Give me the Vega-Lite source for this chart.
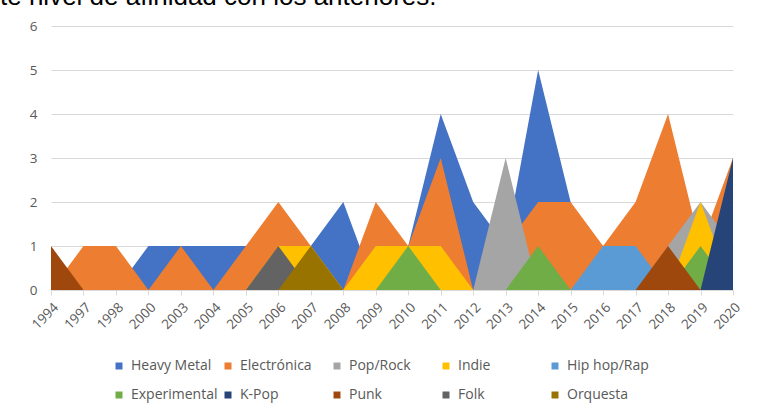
{
  "$schema": "https://vega.github.io/schema/vega-lite/v6.json",
  "width": 682,
  "height": 264,
  "autosize": {"type": "none"},
  "padding": {"left": 51, "top": 26, "right": 30, "bottom": 123},
  "background": "#ffffff",
  "title": {
    "text": "te nivel de afinidad con los anteriores.",
    "anchor": "start",
    "frame": "group",
    "font": "Liberation Sans",
    "fontSize": 26,
    "fontWeight": "normal",
    "color": "#000000",
    "baseline": "alphabetic",
    "offset": 0,
    "dx": -51,
    "dy": 12
  },
  "data": {
    "values": [
      {"year": "1994", "genre": "Heavy Metal", "value": 0},
      {"year": "1997", "genre": "Heavy Metal", "value": 0},
      {"year": "1998", "genre": "Heavy Metal", "value": 0},
      {"year": "2000", "genre": "Heavy Metal", "value": 1},
      {"year": "2003", "genre": "Heavy Metal", "value": 1},
      {"year": "2004", "genre": "Heavy Metal", "value": 1},
      {"year": "2005", "genre": "Heavy Metal", "value": 1},
      {"year": "2006", "genre": "Heavy Metal", "value": 1},
      {"year": "2007", "genre": "Heavy Metal", "value": 1},
      {"year": "2008", "genre": "Heavy Metal", "value": 2},
      {"year": "2009", "genre": "Heavy Metal", "value": 0},
      {"year": "2010", "genre": "Heavy Metal", "value": 1},
      {"year": "2011", "genre": "Heavy Metal", "value": 4},
      {"year": "2012", "genre": "Heavy Metal", "value": 2},
      {"year": "2013", "genre": "Heavy Metal", "value": 1},
      {"year": "2014", "genre": "Heavy Metal", "value": 5},
      {"year": "2015", "genre": "Heavy Metal", "value": 2},
      {"year": "2016", "genre": "Heavy Metal", "value": 0},
      {"year": "2017", "genre": "Heavy Metal", "value": 0},
      {"year": "2018", "genre": "Heavy Metal", "value": 0},
      {"year": "2019", "genre": "Heavy Metal", "value": 0},
      {"year": "2020", "genre": "Heavy Metal", "value": 0},

      {"year": "1994", "genre": "Electrónica", "value": 0},
      {"year": "1997", "genre": "Electrónica", "value": 1},
      {"year": "1998", "genre": "Electrónica", "value": 1},
      {"year": "2000", "genre": "Electrónica", "value": 0},
      {"year": "2003", "genre": "Electrónica", "value": 1},
      {"year": "2004", "genre": "Electrónica", "value": 0},
      {"year": "2005", "genre": "Electrónica", "value": 1},
      {"year": "2006", "genre": "Electrónica", "value": 2},
      {"year": "2007", "genre": "Electrónica", "value": 1},
      {"year": "2008", "genre": "Electrónica", "value": 0},
      {"year": "2009", "genre": "Electrónica", "value": 2},
      {"year": "2010", "genre": "Electrónica", "value": 1},
      {"year": "2011", "genre": "Electrónica", "value": 3},
      {"year": "2012", "genre": "Electrónica", "value": 0},
      {"year": "2013", "genre": "Electrónica", "value": 1},
      {"year": "2014", "genre": "Electrónica", "value": 2},
      {"year": "2015", "genre": "Electrónica", "value": 2},
      {"year": "2016", "genre": "Electrónica", "value": 1},
      {"year": "2017", "genre": "Electrónica", "value": 2},
      {"year": "2018", "genre": "Electrónica", "value": 4},
      {"year": "2019", "genre": "Electrónica", "value": 1},
      {"year": "2020", "genre": "Electrónica", "value": 3},

      {"year": "1994", "genre": "Pop/Rock", "value": 0},
      {"year": "1997", "genre": "Pop/Rock", "value": 0},
      {"year": "1998", "genre": "Pop/Rock", "value": 0},
      {"year": "2000", "genre": "Pop/Rock", "value": 0},
      {"year": "2003", "genre": "Pop/Rock", "value": 0},
      {"year": "2004", "genre": "Pop/Rock", "value": 0},
      {"year": "2005", "genre": "Pop/Rock", "value": 0},
      {"year": "2006", "genre": "Pop/Rock", "value": 0},
      {"year": "2007", "genre": "Pop/Rock", "value": 0},
      {"year": "2008", "genre": "Pop/Rock", "value": 0},
      {"year": "2009", "genre": "Pop/Rock", "value": 0},
      {"year": "2010", "genre": "Pop/Rock", "value": 0},
      {"year": "2011", "genre": "Pop/Rock", "value": 0},
      {"year": "2012", "genre": "Pop/Rock", "value": 0},
      {"year": "2013", "genre": "Pop/Rock", "value": 3},
      {"year": "2014", "genre": "Pop/Rock", "value": 0},
      {"year": "2015", "genre": "Pop/Rock", "value": 0},
      {"year": "2016", "genre": "Pop/Rock", "value": 0},
      {"year": "2017", "genre": "Pop/Rock", "value": 0},
      {"year": "2018", "genre": "Pop/Rock", "value": 1},
      {"year": "2019", "genre": "Pop/Rock", "value": 2},
      {"year": "2020", "genre": "Pop/Rock", "value": 1},

      {"year": "1994", "genre": "Indie", "value": 0},
      {"year": "1997", "genre": "Indie", "value": 0},
      {"year": "1998", "genre": "Indie", "value": 0},
      {"year": "2000", "genre": "Indie", "value": 0},
      {"year": "2003", "genre": "Indie", "value": 0},
      {"year": "2004", "genre": "Indie", "value": 0},
      {"year": "2005", "genre": "Indie", "value": 0},
      {"year": "2006", "genre": "Indie", "value": 1},
      {"year": "2007", "genre": "Indie", "value": 1},
      {"year": "2008", "genre": "Indie", "value": 0},
      {"year": "2009", "genre": "Indie", "value": 1},
      {"year": "2010", "genre": "Indie", "value": 1},
      {"year": "2011", "genre": "Indie", "value": 1},
      {"year": "2012", "genre": "Indie", "value": 0},
      {"year": "2013", "genre": "Indie", "value": 0},
      {"year": "2014", "genre": "Indie", "value": 0},
      {"year": "2015", "genre": "Indie", "value": 0},
      {"year": "2016", "genre": "Indie", "value": 0},
      {"year": "2017", "genre": "Indie", "value": 0},
      {"year": "2018", "genre": "Indie", "value": 0},
      {"year": "2019", "genre": "Indie", "value": 2},
      {"year": "2020", "genre": "Indie", "value": 0},

      {"year": "1994", "genre": "Hip hop/Rap", "value": 0},
      {"year": "1997", "genre": "Hip hop/Rap", "value": 0},
      {"year": "1998", "genre": "Hip hop/Rap", "value": 0},
      {"year": "2000", "genre": "Hip hop/Rap", "value": 0},
      {"year": "2003", "genre": "Hip hop/Rap", "value": 0},
      {"year": "2004", "genre": "Hip hop/Rap", "value": 0},
      {"year": "2005", "genre": "Hip hop/Rap", "value": 0},
      {"year": "2006", "genre": "Hip hop/Rap", "value": 0},
      {"year": "2007", "genre": "Hip hop/Rap", "value": 0},
      {"year": "2008", "genre": "Hip hop/Rap", "value": 0},
      {"year": "2009", "genre": "Hip hop/Rap", "value": 0},
      {"year": "2010", "genre": "Hip hop/Rap", "value": 0},
      {"year": "2011", "genre": "Hip hop/Rap", "value": 0},
      {"year": "2012", "genre": "Hip hop/Rap", "value": 0},
      {"year": "2013", "genre": "Hip hop/Rap", "value": 0},
      {"year": "2014", "genre": "Hip hop/Rap", "value": 0},
      {"year": "2015", "genre": "Hip hop/Rap", "value": 0},
      {"year": "2016", "genre": "Hip hop/Rap", "value": 1},
      {"year": "2017", "genre": "Hip hop/Rap", "value": 1},
      {"year": "2018", "genre": "Hip hop/Rap", "value": 0},
      {"year": "2019", "genre": "Hip hop/Rap", "value": 0},
      {"year": "2020", "genre": "Hip hop/Rap", "value": 0},

      {"year": "1994", "genre": "Experimental", "value": 0},
      {"year": "1997", "genre": "Experimental", "value": 0},
      {"year": "1998", "genre": "Experimental", "value": 0},
      {"year": "2000", "genre": "Experimental", "value": 0},
      {"year": "2003", "genre": "Experimental", "value": 0},
      {"year": "2004", "genre": "Experimental", "value": 0},
      {"year": "2005", "genre": "Experimental", "value": 0},
      {"year": "2006", "genre": "Experimental", "value": 0},
      {"year": "2007", "genre": "Experimental", "value": 0},
      {"year": "2008", "genre": "Experimental", "value": 0},
      {"year": "2009", "genre": "Experimental", "value": 0},
      {"year": "2010", "genre": "Experimental", "value": 1},
      {"year": "2011", "genre": "Experimental", "value": 0},
      {"year": "2012", "genre": "Experimental", "value": 0},
      {"year": "2013", "genre": "Experimental", "value": 0},
      {"year": "2014", "genre": "Experimental", "value": 1},
      {"year": "2015", "genre": "Experimental", "value": 0},
      {"year": "2016", "genre": "Experimental", "value": 0},
      {"year": "2017", "genre": "Experimental", "value": 0},
      {"year": "2018", "genre": "Experimental", "value": 0},
      {"year": "2019", "genre": "Experimental", "value": 1},
      {"year": "2020", "genre": "Experimental", "value": 0},

      {"year": "1994", "genre": "K-Pop", "value": 0},
      {"year": "1997", "genre": "K-Pop", "value": 0},
      {"year": "1998", "genre": "K-Pop", "value": 0},
      {"year": "2000", "genre": "K-Pop", "value": 0},
      {"year": "2003", "genre": "K-Pop", "value": 0},
      {"year": "2004", "genre": "K-Pop", "value": 0},
      {"year": "2005", "genre": "K-Pop", "value": 0},
      {"year": "2006", "genre": "K-Pop", "value": 0},
      {"year": "2007", "genre": "K-Pop", "value": 0},
      {"year": "2008", "genre": "K-Pop", "value": 0},
      {"year": "2009", "genre": "K-Pop", "value": 0},
      {"year": "2010", "genre": "K-Pop", "value": 0},
      {"year": "2011", "genre": "K-Pop", "value": 0},
      {"year": "2012", "genre": "K-Pop", "value": 0},
      {"year": "2013", "genre": "K-Pop", "value": 0},
      {"year": "2014", "genre": "K-Pop", "value": 0},
      {"year": "2015", "genre": "K-Pop", "value": 0},
      {"year": "2016", "genre": "K-Pop", "value": 0},
      {"year": "2017", "genre": "K-Pop", "value": 0},
      {"year": "2018", "genre": "K-Pop", "value": 0},
      {"year": "2019", "genre": "K-Pop", "value": 0},
      {"year": "2020", "genre": "K-Pop", "value": 3},

      {"year": "1994", "genre": "Punk", "value": 1},
      {"year": "1997", "genre": "Punk", "value": 0},
      {"year": "1998", "genre": "Punk", "value": 0},
      {"year": "2000", "genre": "Punk", "value": 0},
      {"year": "2003", "genre": "Punk", "value": 0},
      {"year": "2004", "genre": "Punk", "value": 0},
      {"year": "2005", "genre": "Punk", "value": 0},
      {"year": "2006", "genre": "Punk", "value": 0},
      {"year": "2007", "genre": "Punk", "value": 0},
      {"year": "2008", "genre": "Punk", "value": 0},
      {"year": "2009", "genre": "Punk", "value": 0},
      {"year": "2010", "genre": "Punk", "value": 0},
      {"year": "2011", "genre": "Punk", "value": 0},
      {"year": "2012", "genre": "Punk", "value": 0},
      {"year": "2013", "genre": "Punk", "value": 0},
      {"year": "2014", "genre": "Punk", "value": 0},
      {"year": "2015", "genre": "Punk", "value": 0},
      {"year": "2016", "genre": "Punk", "value": 0},
      {"year": "2017", "genre": "Punk", "value": 0},
      {"year": "2018", "genre": "Punk", "value": 1},
      {"year": "2019", "genre": "Punk", "value": 0},
      {"year": "2020", "genre": "Punk", "value": 0},

      {"year": "1994", "genre": "Folk", "value": 0},
      {"year": "1997", "genre": "Folk", "value": 0},
      {"year": "1998", "genre": "Folk", "value": 0},
      {"year": "2000", "genre": "Folk", "value": 0},
      {"year": "2003", "genre": "Folk", "value": 0},
      {"year": "2004", "genre": "Folk", "value": 0},
      {"year": "2005", "genre": "Folk", "value": 0},
      {"year": "2006", "genre": "Folk", "value": 1},
      {"year": "2007", "genre": "Folk", "value": 0},
      {"year": "2008", "genre": "Folk", "value": 0},
      {"year": "2009", "genre": "Folk", "value": 0},
      {"year": "2010", "genre": "Folk", "value": 0},
      {"year": "2011", "genre": "Folk", "value": 0},
      {"year": "2012", "genre": "Folk", "value": 0},
      {"year": "2013", "genre": "Folk", "value": 0},
      {"year": "2014", "genre": "Folk", "value": 0},
      {"year": "2015", "genre": "Folk", "value": 0},
      {"year": "2016", "genre": "Folk", "value": 0},
      {"year": "2017", "genre": "Folk", "value": 0},
      {"year": "2018", "genre": "Folk", "value": 0},
      {"year": "2019", "genre": "Folk", "value": 0},
      {"year": "2020", "genre": "Folk", "value": 0},

      {"year": "1994", "genre": "Orquesta", "value": 0},
      {"year": "1997", "genre": "Orquesta", "value": 0},
      {"year": "1998", "genre": "Orquesta", "value": 0},
      {"year": "2000", "genre": "Orquesta", "value": 0},
      {"year": "2003", "genre": "Orquesta", "value": 0},
      {"year": "2004", "genre": "Orquesta", "value": 0},
      {"year": "2005", "genre": "Orquesta", "value": 0},
      {"year": "2006", "genre": "Orquesta", "value": 0},
      {"year": "2007", "genre": "Orquesta", "value": 1},
      {"year": "2008", "genre": "Orquesta", "value": 0},
      {"year": "2009", "genre": "Orquesta", "value": 0},
      {"year": "2010", "genre": "Orquesta", "value": 0},
      {"year": "2011", "genre": "Orquesta", "value": 0},
      {"year": "2012", "genre": "Orquesta", "value": 0},
      {"year": "2013", "genre": "Orquesta", "value": 0},
      {"year": "2014", "genre": "Orquesta", "value": 0},
      {"year": "2015", "genre": "Orquesta", "value": 0},
      {"year": "2016", "genre": "Orquesta", "value": 0},
      {"year": "2017", "genre": "Orquesta", "value": 0},
      {"year": "2018", "genre": "Orquesta", "value": 0},
      {"year": "2019", "genre": "Orquesta", "value": 0},
      {"year": "2020", "genre": "Orquesta", "value": 0}
    ]
  },
  "mark": {"type": "area", "interpolate": "linear", "opacity": 1},
  "encoding": {
    "x": {
      "field": "year",
      "type": "ordinal",
      "sort": null,
      "scale": {"type": "point", "padding": 0},
      "axis": {
        "title": null,
        "labelAngle": -45,
        "labelFont": "Open Sans",
        "labelFontSize": 13.5,
        "labelColor": "#595959",
        "labelPadding": 5,
        "domainColor": "#d9d9d9",
        "tickColor": "#d9d9d9",
        "tickSize": 5,
        "grid": false
      }
    },
    "y": {
      "field": "value",
      "type": "quantitative",
      "stack": null,
      "scale": {"domain": [0, 6], "nice": false},
      "axis": {
        "title": null,
        "values": [0, 1, 2, 3, 4, 5, 6],
        "domain": false,
        "ticks": false,
        "grid": true,
        "gridColor": "#d9d9d9",
        "labelFont": "Open Sans",
        "labelFontSize": 13.5,
        "labelColor": "#595959",
        "labelPadding": 14
      }
    },
    "color": {
      "field": "genre",
      "type": "nominal",
      "scale": {
        "domain": ["Heavy Metal", "Electrónica", "Pop/Rock", "Indie", "Hip hop/Rap", "Experimental", "K-Pop", "Punk", "Folk", "Orquesta"],
        "range": ["#4472C4", "#ED7D31", "#A5A5A5", "#FFC000", "#5B9BD5", "#70AD47", "#264478", "#9E480E", "#636363", "#997300"]
      },
      "legend": {
        "title": null,
        "orient": "none",
        "legendX": 61,
        "legendY": 333,
        "direction": "horizontal",
        "columns": 5,
        "gridAlign": "all",
        "symbolType": "square",
        "symbolSize": 49,
        "symbolStrokeWidth": 0,
        "labelOffset": 5,
        "labelFont": "Open Sans",
        "labelFontSize": 14,
        "labelColor": "#595959",
        "columnPadding": 3,
        "rowPadding": 15
      }
    }
  },
  "config": {"view": {"stroke": null}}
}
